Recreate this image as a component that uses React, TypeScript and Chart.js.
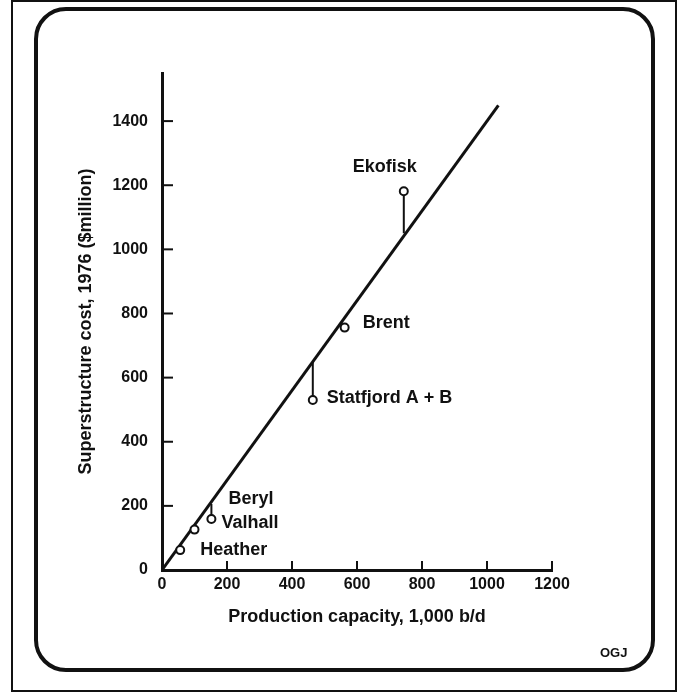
import React, { useEffect, useRef } from "react";
import { Chart, registerables } from "chart.js";

Chart.register(...registerables);

// ---- data ----
const fieldNames = ["Heather", "Valhall", "Beryl", "Statfjord A + B", "Brent", "Ekofisk"];
const capacity = [56, 100, 152, 464, 562, 744]; // 1,000 b/d
const cost = [62, 126, 159, 530, 756, 1181]; // $million (1976)
const fitAtField: (number | null)[] = [null, null, 206, 649, null, 1050]; // where residual meets fit line
const fitLineX = [0, 1035];
const fitLineY = [0, 1449];
const xTickValues = [0, 200, 400, 600, 800, 1000, 1200];
const yTickValues = [0, 200, 400, 600, 800, 1000, 1200, 1400];

// ---- styling ----
const FONT = "'Liberation Sans', Arial, Helvetica, sans-serif";
const INK = "#111";
const labelOffsets: [number, number, CanvasTextAlign][] = [
  [20, 0, "left"],
  [27, -7, "left"],
  [17, -20, "left"],
  [14, -2, "left"],
  [18, -5, "left"],
  [-19, -24, "center"],
];

const decorPlugin = {
  id: "decor",
  beforeDatasetsDraw(chart: any) {
    const { ctx, chartArea, scales } = chart;
    ctx.save();
    ctx.strokeStyle = INK;
    ctx.lineWidth = 2;
    yTickValues.forEach((v) => {
      if (v === 0) return;
      const py = scales.y.getPixelForValue(v);
      ctx.beginPath();
      ctx.moveTo(chartArea.left, py);
      ctx.lineTo(chartArea.left + 11, py);
      ctx.stroke();
    });
    xTickValues.forEach((v) => {
      if (v === 0) return;
      const px = scales.x.getPixelForValue(v);
      ctx.beginPath();
      ctx.moveTo(px, chartArea.bottom);
      ctx.lineTo(px, chartArea.bottom - 9);
      ctx.stroke();
    });
    ctx.restore();
  },
  afterDatasetsDraw(chart: any) {
    const { ctx } = chart;
    const meta = chart.getDatasetMeta(0);
    ctx.save();
    ctx.fillStyle = INK;
    ctx.font = `bold 18px ${FONT}`;
    ctx.textBaseline = "middle";
    meta.data.forEach((pt: any, i: number) => {
      const [dx, dy, align] = labelOffsets[i];
      ctx.textAlign = align;
      ctx.fillText(fieldNames[i], pt.x + dx, pt.y + dy);
    });
    ctx.restore();
  },
};

export default function App() {
  const canvasRef = useRef<HTMLCanvasElement | null>(null);

  useEffect(() => {
    if (!canvasRef.current) return;
    const residuals: any[] = [];
    fitAtField.forEach((top, i) => {
      if (top == null) return;
      residuals.push({
        type: "line",
        label: "residual " + fieldNames[i],
        data: [
          { x: capacity[i], y: cost[i] },
          { x: capacity[i], y: top },
        ],
        borderColor: INK,
        borderWidth: 2,
        pointRadius: 0,
      });
    });

    const chart = new Chart(canvasRef.current, {
      type: "scatter",
      data: {
        datasets: [
          {
            label: "Fields",
            data: capacity.map((x, i) => ({ x, y: cost[i] })),
            pointRadius: 4,
            pointBorderWidth: 2,
            pointBackgroundColor: "#fff",
            pointBorderColor: INK,
            showLine: false,
          } as any,
          {
            type: "line",
            label: "Fit",
            data: fitLineX.map((x, i) => ({ x, y: fitLineY[i] })),
            borderColor: INK,
            borderWidth: 3,
            pointRadius: 0,
          } as any,
          ...residuals,
        ],
      },
      options: {
        animation: false,
        responsive: false,
        maintainAspectRatio: false,
        events: [],
        layout: { padding: { left: 60, top: 73, right: 129, bottom: 60 } },
        plugins: { legend: { display: false }, tooltip: { enabled: false } },
        scales: {
          x: {
            type: "linear",
            min: 0,
            max: 1200,
            afterBuildTicks: (s: any) => {
              s.ticks = xTickValues.map((v) => ({ value: v }));
            },
            afterFit: (s: any) => {
              s.height = 68;
            },
            ticks: {
              font: { family: FONT, size: 16, weight: "bold" },
              color: INK,
              padding: 5,
              callback: (v: any) => String(v),
            },
            grid: { display: false, drawTicks: false },
            border: { display: true, width: 3, color: INK },
            title: {
              display: true,
              text: "Production capacity, 1,000 b/d",
              font: { family: FONT, size: 18, weight: "bold" },
              color: INK,
              padding: { top: 0, bottom: 10 },
            },
          },
          y: {
            type: "linear",
            min: 0,
            max: 1550,
            afterBuildTicks: (s: any) => {
              s.ticks = yTickValues.map((v) => ({ value: v }));
            },
            afterFit: (s: any) => {
              s.width = 102;
            },
            ticks: {
              font: { family: FONT, size: 16, weight: "bold" },
              color: INK,
              padding: 14,
              callback: (v: any) => String(v),
            },
            grid: { display: false, drawTicks: false },
            border: { display: true, width: 3, color: INK },
            title: {
              display: true,
              text: "Superstructure cost, 1976 ($million)",
              font: { family: FONT, size: 18, weight: "bold" },
              color: INK,
              padding: { top: 15, bottom: 0 },
            },
          },
        },
      } as any,
      plugins: [decorPlugin],
    });
    return () => chart.destroy();
  }, []);

  return (
    <div style={{ position: "absolute", left: 0, top: 0, width: 681, height: 698, background: "#fff" }}>
      <div
        style={{
          position: "absolute",
          left: 11,
          top: 0,
          width: 666,
          height: 692,
          border: `2.5px solid ${INK}`,
          boxSizing: "border-box",
        }}
      />
      <div
        style={{
          position: "absolute",
          left: 34,
          top: 7,
          width: 621,
          height: 665,
          border: `4px solid ${INK}`,
          borderRadius: 32,
          boxSizing: "border-box",
        }}
      />
      <canvas ref={canvasRef} width={681} height={698} style={{ position: "absolute", left: 0, top: 0 }} />
      <span
        style={{
          position: "absolute",
          left: 600,
          top: 645,
          font: `bold 13px ${FONT}`,
          color: INK,
        }}
      >
        OGJ
      </span>
    </div>
  );
}
